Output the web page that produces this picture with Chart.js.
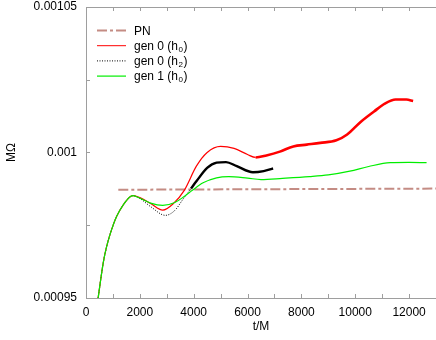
<!DOCTYPE html>
<html>
<head>
<meta charset="utf-8">
<script src="https://cdn.jsdelivr.net/npm/chart.js@4/dist/chart.umd.min.js"></script>
<style>
  html, body { margin: 0; padding: 0; background: #fff; }
  #wrap { width: 436px; height: 340px; }
</style>
</head>
<body>
<div id="wrap"><canvas id="chart"></canvas></div>
<script>
// values (t/M, M*Omega)
const pnT = [1200, 13000];
const pnM = [0.0009872, 0.0009876];

const gen0h0T = [450, 640, 770, 950, 1140, 1390, 1640, 1750, 2000, 2400, 2850, 3250, 3650, 4100, 4500, 5000, 5500, 6000, 6300, 6700, 7200, 7700, 8200, 8700, 9300, 9700, 10200, 10700, 11100, 11500, 11900, 12150];
const gen0h0M = [0.00095, 0.0009621, 0.0009678, 0.0009735, 0.0009781, 0.0009821, 0.0009848, 0.0009852, 0.0009845, 0.0009825, 0.0009802, 0.0009825, 0.000987, 0.0009953, 0.0010000, 0.0010021, 0.0010014, 0.0009993, 0.0009983, 0.000999, 0.0010003, 0.0010021, 0.0010027, 0.0010033, 0.0010042, 0.0010062, 0.0010105, 0.0010141, 0.0010168, 0.0010182, 0.0010182, 0.0010177];

const gen0h2T = [450, 640, 770, 950, 1140, 1390, 1640, 1750, 2000, 2400, 2950, 3300, 3600, 3900, 4100, 4500, 4850, 5200, 5600, 6200, 6600, 6950];
const gen0h2M = [0.00095, 0.0009621, 0.0009678, 0.0009735, 0.0009781, 0.0009821, 0.0009848, 0.0009852, 0.0009842, 0.0009814, 0.0009784, 0.0009801, 0.0009839, 0.0009876, 0.0009901, 0.0009947, 0.0009965, 0.0009967, 0.0009953, 0.0009932, 0.0009936, 0.0009945];

const gen1h0T = [450, 640, 770, 950, 1140, 1390, 1640, 1750, 2000, 2400, 2850, 3300, 3650, 3950, 4350, 4850, 5300, 6000, 6500, 7300, 8300, 9000, 9800, 10500, 11300, 12000, 12650];
const gen1h0M = [0.00095, 0.0009621, 0.0009678, 0.0009735, 0.0009781, 0.0009821, 0.0009848, 0.0009852, 0.0009843, 0.0009826, 0.0009818, 0.0009828, 0.0009849, 0.000987, 0.0009896, 0.0009913, 0.0009917, 0.0009912, 0.0009907, 0.0009911, 0.0009917, 0.0009923, 0.0009936, 0.0009952, 0.0009965, 0.0009966, 0.0009965];

// legend text: [main, subscript, tail]
const seriesNames = [['PN', '', ''], ['gen 0 (h', '0', ')'], ['gen 0 (h', '2', ')'], ['gen 1 (h', '0', ')']];

const xTickLabels = ['0', '', '2000', '', '4000', '', '6000', '', '8000', '', '10000', '', '12000', ''];
const yTickLabels = ['0.00095', '', '0.001', '', '0.00105'];

const FONT = 'Liberation Sans, Arial, Helvetica, sans-serif';
const AXIS = '#9e9e9e';

function pts(t, m) {
  return t.map((v, i) => ({ x: v, y: m[i] }));
}

// inward tick marks + top frame line
const frame = {
  id: 'frame',
  afterDraw(chart) {
    const ctx = chart.ctx;
    const a = chart.chartArea;
    const xs = chart.scales.x, ys = chart.scales.y;
    ctx.save();
    ctx.strokeStyle = AXIS;
    ctx.lineWidth = 1;
    ctx.beginPath();
    ctx.moveTo(a.left, a.top + 0.5);
    ctx.lineTo(a.right, a.top + 0.5);
    xs.ticks.forEach(t => {
      const p = Math.round(xs.getPixelForValue(t.value)) + 0.5;
      ctx.moveTo(p, a.bottom);
      ctx.lineTo(p, a.bottom - 4);
      ctx.moveTo(p, a.top);
      ctx.lineTo(p, a.top + 4);
    });
    ys.ticks.forEach(t => {
      const p = Math.round(ys.getPixelForValue(t.value)) + 0.5;
      ctx.moveTo(a.left, p);
      ctx.lineTo(a.left + 4, p);
    });
    ctx.stroke();
    ctx.restore();
  }
};

// legend in the top-left corner of the plot
const legendBox = {
  id: 'legendBox',
  afterDraw(chart) {
    const ctx = chart.ctx;
    ctx.save();
    chart.data.datasets.forEach((ds, i) => {
      const y = 30.5 + i * 15.2;
      ctx.strokeStyle = ds.borderColor;
      ctx.lineWidth = ds.legendWidth;
      ctx.setLineDash(ds.borderDash || []);
      ctx.beginPath();
      ctx.moveTo(97, y);
      ctx.lineTo(126, y);
      ctx.stroke();
      ctx.setLineDash([]);
      const [main, sub, tail] = seriesNames[i];
      ctx.fillStyle = '#000';
      ctx.textBaseline = 'middle';
      ctx.font = '12px ' + FONT;
      let x = 134;
      ctx.fillText(main, x, y + 1);
      x += ctx.measureText(main).width;
      if (sub) {
        ctx.font = '8px ' + FONT;
        ctx.fillText(sub, x + 0.5, y + 4);
        x += ctx.measureText(sub).width + 1;
        ctx.font = '12px ' + FONT;
        ctx.fillText(tail, x, y + 1);
      }
    });
    ctx.restore();
  }
};

new Chart(document.getElementById('chart'), {
  type: 'line',
  data: {
    datasets: [
      {
        label: 'PN',
        data: pts(pnT, pnM),
        borderColor: 'rgb(196,140,132)',
        borderWidth: 2,
        legendWidth: 2,
        borderDash: [10, 3, 3, 3],
        order: 3
      },
      {
        label: 'gen 0 (h0)',
        data: pts(gen0h0T, gen0h0M),
        borderColor: '#ff0000',
        borderWidth: 1.2,
        legendWidth: 1,
        order: 1,
        segment: {
          borderWidth: c => c.p0.parsed.x >= 6200 ? 2.6 : 1.2
        }
      },
      {
        label: 'gen 0 (h2)',
        data: pts(gen0h2T, gen0h2M),
        borderColor: '#000000',
        borderWidth: 1,
        legendWidth: 1,
        borderDash: [1, 1.5],
        order: 2,
        segment: {
          borderWidth: c => c.p0.parsed.x >= 3800 ? 2.4 : 1,
          borderDash: c => c.p0.parsed.x >= 3800 ? [] : [1, 1.5]
        }
      },
      {
        label: 'gen 1 (h0)',
        data: pts(gen1h0T, gen1h0M),
        borderColor: '#00ee00',
        borderWidth: 1.2,
        legendWidth: 1.2,
        order: 0
      }
    ]
  },
  options: {
    responsive: true,
    maintainAspectRatio: false,
    animation: false,
    events: [],
    layout: { padding: { top: 7, right: 0, left: 0, bottom: 0 } },
    elements: {
      point: { radius: 0 },
      line: { cubicInterpolationMode: 'monotone', borderCapStyle: 'butt' }
    },
    plugins: {
      legend: { display: false },
      tooltip: { enabled: false }
    },
    scales: {
      x: {
        type: 'linear',
        min: 0,
        max: 13000,
        afterFit: s => { s.height = 42; s.paddingLeft = 0; s.paddingRight = 0; },
        grid: { display: false, drawTicks: false },
        border: { display: true, color: AXIS, width: 1 },
        ticks: {
          stepSize: 1000,
          autoSkip: false,
          maxRotation: 0,
          padding: 7,
          color: '#000',
          font: { family: FONT, size: 12 },
          callback: (v, i) => xTickLabels[i] ?? ''
        },
        title: {
          display: true,
          text: 't/M',
          color: '#000',
          font: { family: FONT, size: 12 },
          padding: { top: 0, bottom: 6 }
        }
      },
      y: {
        type: 'linear',
        min: 0.00095,
        max: 0.00105,
        afterFit: s => { s.width = 86; s.paddingTop = 0; s.paddingBottom = 0; },
        grid: { display: false, drawTicks: false },
        border: { display: true, color: AXIS, width: 1 },
        ticks: {
          stepSize: 0.000025,
          autoSkip: false,
          padding: 9,
          color: '#000',
          font: { family: FONT, size: 12 },
          callback: (v, i) => yTickLabels[i] ?? ''
        },
        title: {
          display: true,
          text: 'MΩ',
          color: '#000',
          font: { family: FONT, size: 12 },
          padding: { top: 4, bottom: 0 }
        }
      }
    }
  },
  plugins: [frame, legendBox]
});
</script>
</body>
</html>
